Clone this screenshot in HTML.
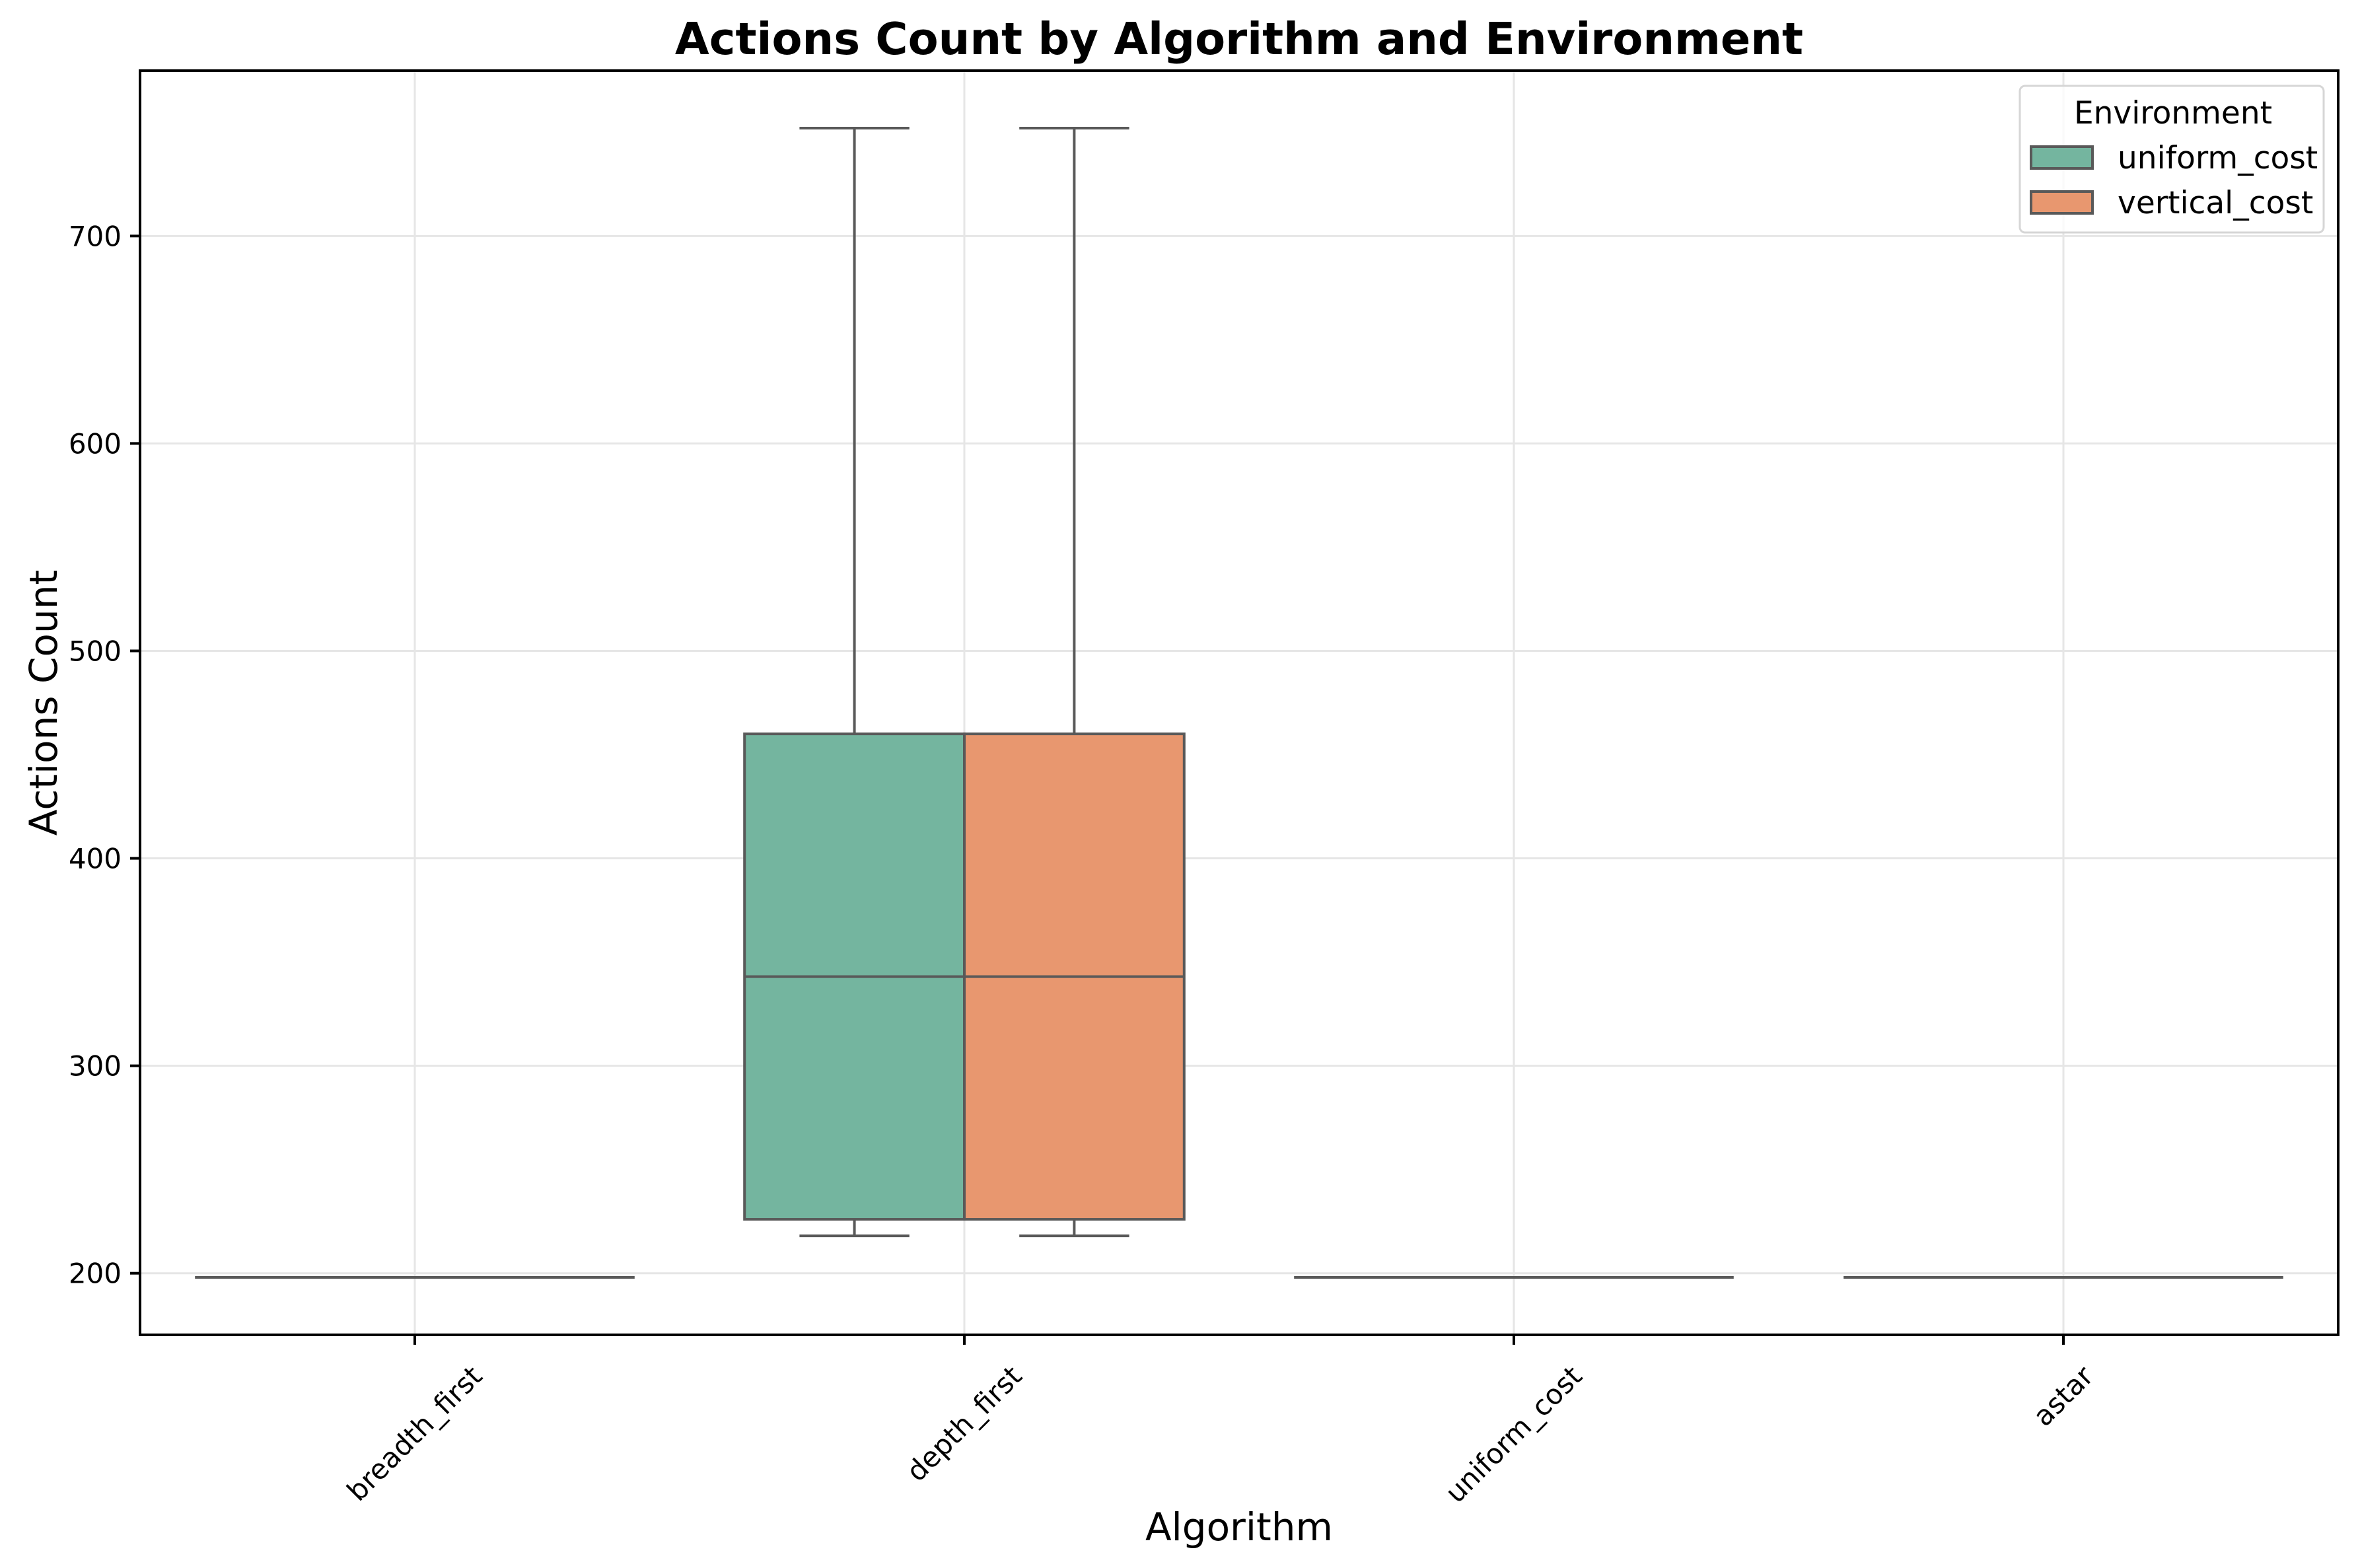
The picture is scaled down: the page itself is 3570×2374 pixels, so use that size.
<!DOCTYPE html>
<html><head><meta charset="utf-8"><style>
html,body{margin:0;padding:0;background:#fff;}
svg{display:block;font-family:"DejaVu Sans","Liberation Sans",sans-serif;}
</style></head><body>
<svg id="chart" width="3570" height="2374" viewBox="0 0 3570 2374" xmlns="http://www.w3.org/2000/svg">
<rect width="3570" height="2374" fill="#fff"/>
<g id="grid"></g>
<g id="marks"></g>
<rect x="212" y="107" width="3328" height="1914" fill="none" stroke="#000" stroke-width="4"/>
<g id="yticks"></g>
<g id="xticks"></g>
<text x="1876" y="82" text-anchor="middle" font-size="67" font-weight="bold">Actions Count by Algorithm and Environment</text>
<text x="1876" y="2332" text-anchor="middle" font-size="58">Algorithm</text>
<text transform="translate(86,1064) rotate(-90)" text-anchor="middle" font-size="58">Actions Count</text>
<g>
<rect x="3058" y="130" width="460" height="222" rx="8" fill="#fff" fill-opacity="0.8" stroke="#d6d6d6" stroke-width="3"/>
<text x="3290" y="187" text-anchor="middle" font-size="47">Environment</text>
<rect x="3075" y="222" width="93" height="33" fill="#74b59f" stroke="#595959" stroke-width="4"/>
<text x="3206" y="255" font-size="47">uniform_cost</text>
<rect x="3075" y="290" width="93" height="33" fill="#e8976f" stroke="#595959" stroke-width="4"/>
<text x="3206" y="323" font-size="47">vertical_cost</text>
</g>
</svg>
<script>
const categories = ["breadth_first","depth_first","uniform_cost","astar"];
const hues = ["uniform_cost","vertical_cost"];
const hueColors = ["#74b59f","#e8976f"];
// per category, per hue: [whiskerLow, q1, median, q3, whiskerHigh]
const uniformStats = [[198,198,198,198,198],[218,226,343,460,752],[198,198,198,198,198],[198,198,198,198,198]];
const verticalStats = [[198,198,198,198,198],[218,226,343,460,752],[198,198,198,198,198],[198,198,198,198,198]];
const yTicks = [200,300,400,500,600,700];

const NS="http://www.w3.org/2000/svg";
const L=212,R=3540,T=107,B=2021, yMin=170.3, yMax=779.7;
const y = v => B - (v - yMin)/(yMax - yMin)*(B - T);
const step = (R - L)/categories.length;
const x = i => L + step*(i + 0.5);
function mk(tag, attrs, parent){const e=document.createElementNS(NS,tag);for(const k in attrs)e.setAttribute(k,attrs[k]);parent.appendChild(e);return e;}
const grid=document.getElementById('grid'), marks=document.getElementById('marks');
const yt=document.getElementById('yticks'), xt=document.getElementById('xticks');

yTicks.forEach(v=>{
  const g=mk('line',{x1:L,x2:R,y1:y(v),y2:y(v),stroke:'#e6e6e6','stroke-width':3},grid);
  
  
  const t=mk('line',{x1:L-15,x2:L,y1:y(v),y2:y(v),stroke:'#000','stroke-width':4},yt);
  
  
  const tx=mk('text',{x:L-28,y:y(v)+15,'text-anchor':'end','font-size':42},yt);
  tx.textContent=v;
  
  
});

categories.forEach((c,i)=>{
  const cx=x(i);
  const g=mk('line',{x1:cx,x2:cx,y1:T,y2:B,stroke:'#e6e6e6','stroke-width':3},grid);
  
  
  const t=mk('line',{x1:cx,x2:cx,y1:B,y2:B+15,stroke:'#000','stroke-width':4},xt);
  
  
  const tx=mk('text',{x:0,y:0,'text-anchor':'middle','font-size':42},xt);
  tx.textContent=c;
  
  
  const len=tx.getComputedTextLength(), h=40;
  const bb=(len+h)*0.7071;
  tx.setAttribute('transform',`translate(${cx},${2062+bb/2}) rotate(-45) translate(0,14)`);

  [uniformStats,verticalStats].forEach((stats,h_)=>{
    const s=stats[i];
    const bw=step*0.4, bx=cx - step*0.4 + h_*bw, mid=bx+bw/2;
    const grp=mk('g',{},marks);
    
    
    mk('line',{x1:mid,x2:mid,y1:y(s[0]),y2:y(s[1]),stroke:'#595959','stroke-width':4},grp);
    mk('line',{x1:mid,x2:mid,y1:y(s[3]),y2:y(s[4]),stroke:'#595959','stroke-width':4},grp);
    mk('line',{x1:mid-bw/4,x2:mid+bw/4,y1:y(s[0]),y2:y(s[0]),stroke:'#595959','stroke-width':4},grp);
    mk('line',{x1:mid-bw/4,x2:mid+bw/4,y1:y(s[4]),y2:y(s[4]),stroke:'#595959','stroke-width':4},grp);
    mk('rect',{x:bx,y:y(s[3]),width:bw,height:Math.max(0,y(s[1])-y(s[3])),fill:hueColors[h_],stroke:'#595959','stroke-width':4},grp);
    mk('line',{x1:bx,x2:bx+bw,y1:y(s[2]),y2:y(s[2]),stroke:'#595959','stroke-width':4},grp);
  });
});
</script>
</body></html>
